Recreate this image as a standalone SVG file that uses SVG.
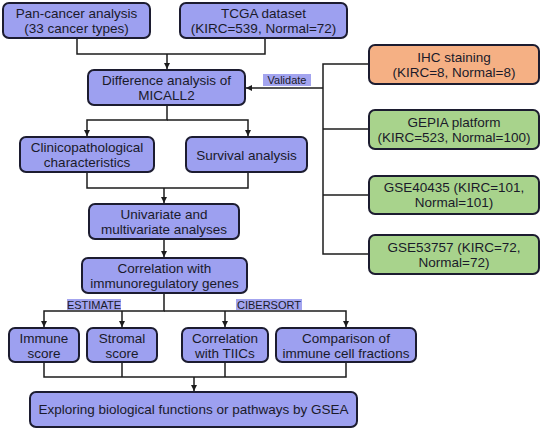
<svg xmlns="http://www.w3.org/2000/svg" width="543" height="431" viewBox="0 0 543 431">
<style>
.b{fill:#9da0f0;stroke:#1c1c30;stroke-width:2}
.o{fill:#f5b084;stroke:#1c1c30;stroke-width:2}
.g{fill:#a8d38c;stroke:#1c1c30;stroke-width:2}
text{font-family:"Liberation Sans",Arial,sans-serif;font-size:13.5px;fill:#1a1a2a;text-anchor:middle}
.lbl{font-size:11px}
.c{fill:none;stroke:#1c1c1c;stroke-width:1.5}
</style>
<defs>
<marker id="ah" viewBox="0 0 10 10" refX="10" refY="5" markerWidth="6" markerHeight="6" orient="auto" markerUnits="userSpaceOnUse"><path d="M0,0L10,5L0,10z" fill="#1c1c1c"/></marker>
</defs>
<rect width="543" height="431" fill="#fff"/>
<g id="connectors">
<path class="c" d="M77,38V54H265V38"/>
<path class="c" d="M167,54V69" marker-end="url(#ah)"/>
<path class="c" d="M167,105V120H87V136" marker-end="url(#ah)"/>
<path class="c" d="M167,120H248V136" marker-end="url(#ah)"/>
<path class="c" d="M87,172V188H248V172"/>
<path class="c" d="M164,188V203" marker-end="url(#ah)"/>
<path class="c" d="M164,239V257" marker-end="url(#ah)"/>
<path class="c" d="M164,293V311H44V327" marker-end="url(#ah)"/>
<path class="c" d="M122,311V327" marker-end="url(#ah)"/>
<path class="c" d="M164,311H346V327" marker-end="url(#ah)"/>
<path class="c" d="M225,311V327" marker-end="url(#ah)"/>
<path class="c" d="M44,362V377H346V362"/>
<path class="c" d="M122,362V377"/>
<path class="c" d="M225,362V377"/>
<path class="c" d="M194,377V391" marker-end="url(#ah)"/>
<path class="c" d="M369,64H323V254H369"/>
<path class="c" d="M323,129H369"/>
<path class="c" d="M323,195H369"/>
<path class="c" d="M323,88H246" marker-end="url(#ah)"/>
<rect x="263" y="74" width="48" height="12" fill="#a3a4ef"/>
<text class="lbl" x="287" y="84">Validate</text>
<rect x="67" y="299" width="54" height="11" fill="#a3a4ef"/>
<text class="lbl" x="94" y="308.5">ESTIMATE</text>
<rect x="236" y="299" width="66" height="11" fill="#a3a4ef"/>
<text class="lbl" x="269" y="308.5">CIBERSORT</text>
</g>
<g id="pan"><rect class="b" x="3" y="3" width="147" height="35" rx="6"/><text x="76.5" y="18">Pan-cancer analysis</text><text x="76.5" y="33">(33 cancer types)</text></g>
<g id="tcga"><rect class="b" x="180" y="3" width="167" height="35" rx="6"/><text x="263.5" y="18">TCGA dataset</text><text x="263.5" y="33">(KIRC=539, Normal=72)</text></g>
<g id="diff"><rect class="b" x="88" y="70" width="157" height="35" rx="6"/><text x="166.5" y="85">Difference analysis of</text><text x="166.5" y="100">MICALL2</text></g>
<g id="ihc"><rect class="o" x="369" y="45" width="170" height="39" rx="6"/><text x="454" y="62">IHC staining</text><text x="454" y="77">(KIRC=8, Normal=8)</text></g>
<g id="gepia"><rect class="g" x="369" y="110" width="170" height="39" rx="6"/><text x="454" y="127">GEPIA platform</text><text x="454" y="142">(KIRC=523, Normal=100)</text></g>
<g id="gse40435"><rect class="g" x="369" y="176" width="170" height="38" rx="6"/><text x="454" y="192">GSE40435 (KIRC=101,</text><text x="454" y="207">Normal=101)</text></g>
<g id="gse53757"><rect class="g" x="369" y="235" width="170" height="39" rx="6"/><text x="454" y="252">GSE53757 (KIRC=72,</text><text x="454" y="267">Normal=72)</text></g>
<g id="clin"><rect class="b" x="20" y="137" width="134" height="35" rx="6"/><text x="87" y="152">Clinicopathological</text><text x="87" y="167">characteristics</text></g>
<g id="surv"><rect class="b" x="186" y="137" width="121" height="35" rx="6"/><text x="246.5" y="159.5">Survival analysis</text></g>
<g id="uni"><rect class="b" x="89" y="204" width="150" height="35" rx="6"/><text x="164" y="219">Univariate and</text><text x="164" y="234">multivariate analyses</text></g>
<g id="corr"><rect class="b" x="82" y="258" width="165" height="35" rx="6"/><text x="164.5" y="273">Correlation with</text><text x="164.5" y="288">immunoregulatory genes</text></g>
<g id="immune"><rect class="b" x="9" y="328" width="70" height="34" rx="6"/><text x="44" y="343">Immune</text><text x="44" y="358">score</text></g>
<g id="stromal"><rect class="b" x="87" y="328" width="70" height="34" rx="6"/><text x="122" y="343">Stromal</text><text x="122" y="358">score</text></g>
<g id="tiic"><rect class="b" x="182" y="328" width="86" height="34" rx="6"/><text x="225" y="343">Correlation</text><text x="225" y="358">with TIICs</text></g>
<g id="comp"><rect class="b" x="276" y="328" width="140" height="34" rx="6"/><text x="346" y="343">Comparison of</text><text x="346" y="358">immune cell fractions</text></g>
<g id="gsea"><rect class="b" x="30" y="392" width="327" height="35" rx="6"/><text x="193.5" y="414">Exploring biological functions or pathways by GSEA</text></g>
</svg>
